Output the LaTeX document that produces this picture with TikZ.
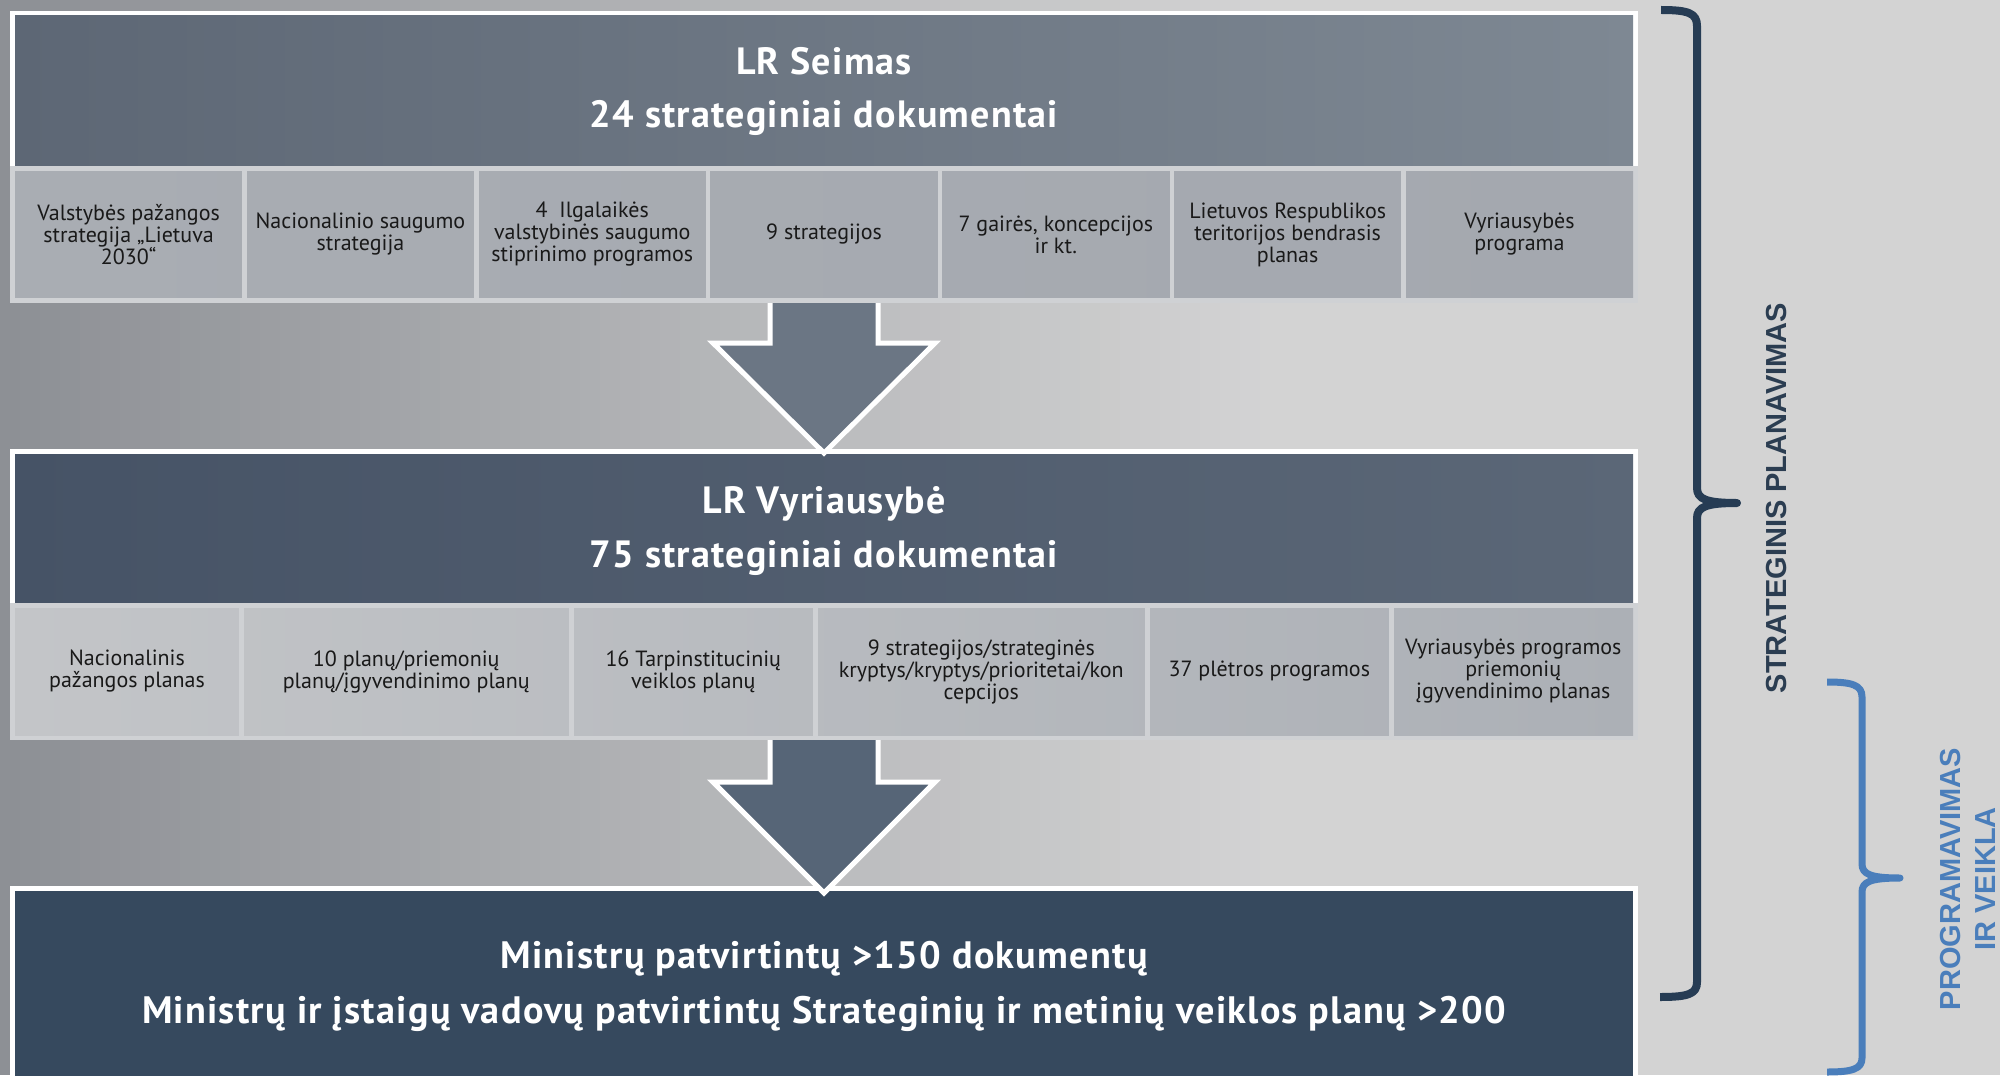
\documentclass[tikz,border=0pt]{standalone}
\usepackage{fontspec}
\setmainfont{PT Sans}
\newfontfamily\headfont{PT Sans}[LetterSpace=3.3]
\newfontfamily\lsans{Liberation Sans}
\definecolor{bgL}{HTML}{8D9095}
\definecolor{bgR}{HTML}{D3D3D3}
\definecolor{hAL}{HTML}{5D6775}
\definecolor{hAR}{HTML}{7E8893}
\definecolor{hBL}{HTML}{465366}
\definecolor{hBR}{HTML}{5B6777}
\definecolor{cAL}{HTML}{A9ADB3}
\definecolor{cAR}{HTML}{A4A8AF}
\definecolor{cBL}{HTML}{C3C5C8}
\definecolor{cBR}{HTML}{ACB0B6}
\definecolor{gapC}{HTML}{CFD1D4}
\definecolor{botC}{HTML}{36495E}
\definecolor{arrA}{HTML}{6B7684}
\definecolor{arrB}{HTML}{566577}
\definecolor{braceC}{HTML}{263C54}
\definecolor{stratC}{HTML}{2B3D51}
\definecolor{blueC}{HTML}{4A7EBB}
\newcommand\mycell[5]{\node[celltext] (#1) at ({(#2+#3)/2},#4) {#5};}
\begin{document}
\begin{tikzpicture}[x=0.5pt,y=-0.5pt,
  celltext/.style={align=center,text=black!90,font=\fontsize{11}{11}\selectfont,inner sep=0pt},
  headtext/.style={anchor=base,text=white,font=\headfont\bfseries\fontsize{19}{22}\selectfont,inner sep=0pt},
  bottext/.style={anchor=base,text=white,font=\headfont\bfseries\fontsize{19.1}{22}\selectfont,inner sep=0pt},
  gapline/.style={draw=gapC,line width=2.25pt},
  blockarrow/.style={draw=white,line width=2.5pt,line join=miter},
  bracedark/.style={draw=braceC,line width=4pt,line join=round},
  braceblue/.style={draw=blueC,line width=3.5pt,line join=round},
  sidetext/.style={rotate=90,font=\lsans\bfseries\fontsize{14.5}{17.5}\selectfont,inner sep=0pt,align=center}]
\useasboundingbox (0,0) rectangle (2000,1075);
% background: vertical strips forming a left-to-right gradient
\foreach \i in {0,...,99} {
  \pgfmathsetmacro\tt{min(100,\i*20/12.5)}
  \fill[bgR!\tt!bgL] (\i*20,0) rectangle (\i*20+21,1075);
}

% ---------- top group ----------
\fill[white] (10,11) rectangle (1638,168);
\shade[left color=hAL,right color=hAR] (15,16) rectangle (1633,166);
\fill[gapC] (10,166) rectangle (1638,303);
\shade[left color=cAL,right color=cAR] (15,172) rectangle (1633,297);
\foreach \gx in {244.55,476.35,708.15,939.95,1171.75,1403.55} \draw[gapline] (\gx,170) -- (\gx,299);
\node[headtext] (seimas) at (824,75) {LR Seimas};
\node[headtext] (seimasdoc) at (824,128) {24 strateginiai dokumentai};
\mycell{a1}{15}{242.3}{234.5}{Valstybės pažangos\\strategija „Lietuva\\2030“}
\mycell{a2}{246.8}{474.1}{234.5}{Nacionalinio saugumo\\strategija}
\mycell{a3}{478.6}{705.9}{234.5}{4~~Ilgalaikės\\valstybinės saugumo\\stiprinimo programos}
\mycell{a4}{710.4}{937.7}{234.5}{9 strategijos}
\mycell{a5}{942.2}{1169.5}{234.5}{7 gairės, koncepcijos\\ir kt.}
\mycell{a6}{1174}{1401.3}{234.5}{Lietuvos Respublikos\\teritorijos bendrasis\\planas}
\mycell{a7}{1405.8}{1633}{234.5}{Vyriausybės\\programa}

% ---------- middle group ----------
\fill[white] (10,449) rectangle (1638,605);
\shade[left color=hBL,right color=hBR] (15,454) rectangle (1633,603);
\fill[gapC] (10,603) rectangle (1638,740);
\shade[left color=cBL,right color=cBR] (15,608) rectangle (1633,735);
\foreach \gx in {241.25,571.25,815.25,1147.25,1391.25} \draw[gapline] (\gx,606) -- (\gx,737);
\node[headtext] (vyr) at (824,513) {LR Vyriausybė};
\node[headtext] (vyrdoc) at (824,567) {75 strateginiai dokumentai};
\mycell{b1}{15}{239}{671.5}{Nacionalinis\\pažangos planas}
\mycell{b2}{243.5}{569}{671.5}{10 planų/priemonių\\planų/įgyvendinimo planų}
\mycell{b3}{573.5}{813}{671.5}{16 Tarpinstitucinių\\veiklos planų}
\mycell{b4}{817.5}{1145}{671.5}{9 strategijos/strateginės\\kryptys/kryptys/prioritetai/kon\\cepcijos}
\mycell{b5}{1149.5}{1389}{671.5}{37 plėtros programos}
\mycell{b6}{1393.5}{1633}{671.5}{Vyriausybės programos\\priemonių\\įgyvendinimo planas}

% ---------- bottom group ----------
\fill[white] (10,886) rectangle (1638,1080);
\fill[botC] (15,891) rectangle (1633,1080);
\node[bottext] (min1) at (824,968) {Ministrų patvirtintų >150 dokumentų};
\node[bottext] (min2) at (824,1023) {Ministrų ir įstaigų vadovų patvirtintų Strateginių ir metinių veiklos planų >200};

% ---------- block arrows ----------
\filldraw[blockarrow,fill=arrA] (770,303) -- (770,343) -- (713,343) -- (824,453) -- (935,343) -- (878,343) -- (878,303);
\filldraw[blockarrow,fill=arrB] (770,740) -- (770,782) -- (713,782) -- (824,893) -- (935,782) -- (878,782) -- (878,740);

% ---------- braces ----------
\draw[bracedark] (1661,10) .. controls (1688,10) and (1697,13) .. (1697,26) -- (1697,488)
  .. controls (1697,499) and (1706,503) .. (1737,503)
  .. controls (1706,503) and (1697,507) .. (1697,518) -- (1697,982)
  .. controls (1697,994) and (1688,997) .. (1660,997);
\draw[braceblue] (1827,682) .. controls (1852,682) and (1862,685) .. (1862,697) -- (1862,864)
  .. controls (1862,874) and (1870,878) .. (1900,878)
  .. controls (1870,878) and (1862,882) .. (1862,892) -- (1862,1058)
  .. controls (1862,1069) and (1852,1072) .. (1827,1072);
\node[sidetext,text=stratC] (strat) at (1776,498) {STRATEGINIS PLANAVIMAS};
\node[sidetext,text=blueC] (prog) at (1968,879) {PROGRAMAVIMAS\\IR VEIKLA};
\end{tikzpicture}
\end{document}
